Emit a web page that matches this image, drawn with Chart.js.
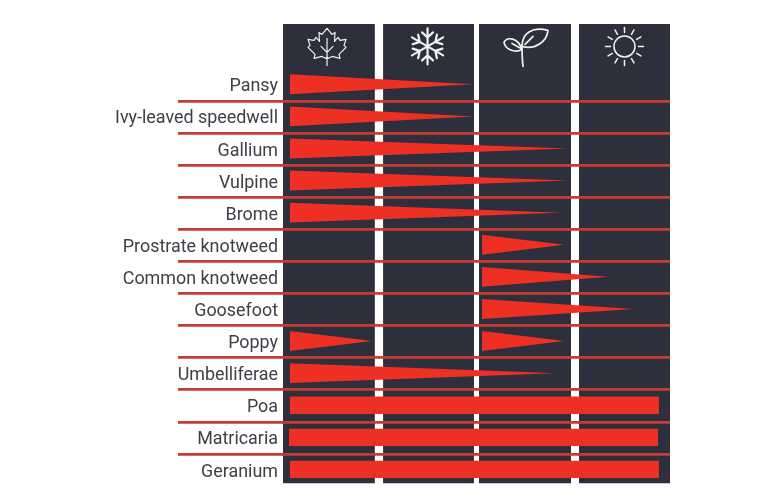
<!DOCTYPE html>
<html lang="en">

<head>
  <meta charset="UTF-8">
  <title>Plants by season</title>
  <script src="https://cdn.jsdelivr.net/npm/chart.js@4/dist/chart.umd.js"></script>
  <style>
    html, body { margin: 0; background: #fff; }
    canvas { display: block; }
  </style>
</head>

<body>
  <canvas id="seasonChart" width="770" height="500"></canvas>

  <script>
    // plant names, top to bottom (two blank rows leave room for the season icons)
    const plants = ["", "", "Pansy", "Ivy-leaved speedwell", "Gallium", "Vulpine", "Brome",
      "Prostrate knotweed", "Common knotweed", "Goosefoot", "Poppy", "Umbelliferae",
      "Poa", "Matricaria", "Geranium"];

    // x values are in seasons: 0 = start of autumn, 4 = end of summer
    const seasonStart = [0, 1.034, 2.026, 3.059];
    const seasonEnd = [0.95, 1.974, 2.977, 4];

    // tapering periods (Poppy has two)
    const taperRows = [0, 1, 2, 3, 4, 5, 6, 7, 8, 8, 9];
    const taperStart = [0.07, 0.07, 0.07, 0.07, 0.07, 2.057, 2.057, 2.057, 0.07, 2.057, 0.07];
    const taperEnd = [1.96, 1.96, 2.945, 2.945, 2.87, 2.905, 3.365, 3.62, 0.92, 2.905, 2.82];

    // all year plants
    const steadyRows = [10, 11, 12];
    const steadyStart = [0.07, 0.06, 0.07];
    const steadyEnd = [3.886, 3.876, 3.886];

    const NAVY = "#2d303c";
    const RED = "#ee2f23";
    const LINE_RED = "#c93a30";
    const ROW_SHIFT = -0.02; // marks sit a hair above the row centre

    // two lines, the upper one filled down to the lower one
    function band(x0, x1, top0, top1, bottom0, bottom1, color, order) {
      const base = { type: "scatter", showLine: true, yAxisID: "yMark", pointRadius: 0, borderWidth: 0, tension: 0, order: order };
      return [
        { ...base, data: [{ x: x0, y: top0 }, { x: x1, y: top1 }], fill: "+1", backgroundColor: color },
        { ...base, data: [{ x: x0, y: bottom0 }, { x: x1, y: bottom1 }], fill: false }
      ];
    }

    const datasets = [];
    seasonStart.forEach((s, i) => {
      datasets.push(...band(s, seasonEnd[i], -1.9, -1.9, 12.41, 12.41, NAVY, 2));
    });
    taperRows.forEach((r, i) => {
      const mid = r + ROW_SHIFT;
      datasets.push(...band(taperStart[i], taperEnd[i], mid - 0.31, mid, mid + 0.31, mid, RED, 1));
    });
    steadyRows.forEach((r, i) => {
      const mid = r + ROW_SHIFT;
      datasets.push(...band(steadyStart[i], steadyEnd[i], mid - 0.27, mid - 0.27, mid + 0.27, mid + 0.27, RED, 1));
    });

    const leaf = new Path2D("M0 -18 L5 -12 L8 -14 L7.5 -5 L11 -9 L13 -6 L19 -7 L17 -1 L19 1 L12 8 L13 12 L5 10 L1 12 L0 10 L-1 12 L-5 10 L-13 12 L-12 8 L-19 1 L-17 -1 L-19 -7 L-13 -6 L-11 -9 L-7.5 -5 L-8 -14 L-5 -12 Z M0 -8 L0 19 M0 6 L-6 0 M0 6 L6 0");
    const sprout = new Path2D("M-2 20 C-3 12 -3 6 -3 0 C-3 -14 8 -20 23 -16 C22 -5 10 4 -3 0 M0 -2 L8 -10 M-3 3 C-7 -9 -18 -10 -21 -4 C-20 3 -10 7 -3 3 M-13 -3 L-4 2");

    function drawFlake(c) {
      c.lineWidth = 2.2;
      for (let a = 0; a < 6; a++) {
        c.save();
        c.rotate(a * Math.PI / 3);
        c.beginPath();
        c.moveTo(0, 0); c.lineTo(0, -18);
        c.moveTo(-5.5, -14); c.lineTo(0, -9); c.lineTo(5.5, -14);
        c.stroke();
        c.restore();
      }
    }

    function drawSun(c) {
      c.lineWidth = 1.5;
      c.beginPath();
      c.arc(0, 0, 10.5, 0, Math.PI * 2);
      c.stroke();
      for (let a = 0; a < 12; a++) {
        c.save();
        c.rotate(a * Math.PI / 6);
        c.beginPath();
        c.moveTo(0, -14); c.lineTo(0, -19);
        c.stroke();
        c.restore();
      }
    }

    const iconDraw = [
      c => { c.lineWidth = 1.2; c.stroke(leaf); },
      drawFlake,
      c => { c.lineWidth = 1.7; c.stroke(sprout); },
      drawSun
    ];
    const iconShift = [-0.02, -0.01, 0, 0];

    const seasonIcons = {
      id: "seasonIcons",
      afterDatasetsDraw(chart) {
        const c = chart.ctx;
        const xs = chart.scales.x;
        const ys = chart.scales.yMark;
        iconDraw.forEach((draw, i) => {
          const mid = (seasonStart[i] + seasonEnd[i]) / 2 + iconShift[i];
          c.save();
          c.translate(xs.getPixelForValue(mid), ys.getPixelForValue(-1.2));
          c.strokeStyle = "#f2f2f2";
          c.lineJoin = "round";
          c.lineCap = "round";
          draw(c);
          c.restore();
        });
      }
    };

    new Chart(document.getElementById("seasonChart"), {
      type: "scatter",
      data: { datasets: datasets },
      plugins: [seasonIcons],
      options: {
        responsive: false,
        animation: false,
        events: [],
        layout: { padding: { top: 4.7, right: 100, bottom: 13.9, left: 0 } },
        plugins: { legend: { display: false }, tooltip: { enabled: false } },
        scales: {
          x: { type: "linear", display: false, min: 0, max: 4 },
          yMark: { type: "linear", display: false, min: -2.5, max: 12.5, reverse: true },
          y: {
            type: "category",
            labels: plants,
            offset: true,
            position: "left",
            border: { display: false },
            // the long tick marks are what carry the row lines across to the names
            grid: {
              offset: true,
              z: 1,
              lineWidth: 2.7,
              tickLength: 105,
              color: ctx => ctx.index >= 3 ? LINE_RED : "transparent"
            },
            ticks: {
              autoSkip: false,
              padding: -100,
              labelOffset: 2,
              color: "#3e3f47",
              font: { family: "Roboto", size: 17.9 }
            },
            afterFit: scale => { scale.width = 283; }
          }
        }
      }
    });
  </script>
</body>

</html>
